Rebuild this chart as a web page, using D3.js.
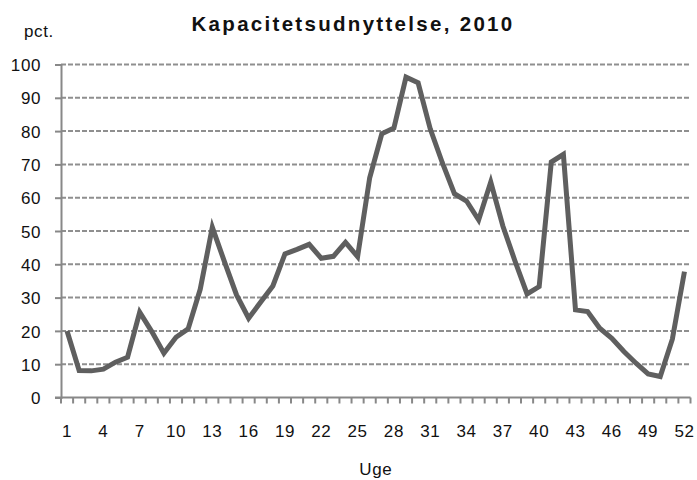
<!DOCTYPE html>
<html>
<head>
<meta charset="utf-8">
<script src="https://cdn.jsdelivr.net/npm/d3@7"></script>
<style>
  body { margin: 0; background: #fff; }
  text { font-family: "Liberation Sans", Arial, sans-serif; fill: #111; }
</style>
</head>
<body>
<script>
// data
var weeks = d3.range(1, 53);
var usage = [20.0, 8.1, 8.0, 8.5, 10.6, 12.1, 25.6, 19.8, 13.3, 18.1,
             20.6, 32.5, 51.1, 40.8, 30.8, 23.8, 28.7, 33.5, 43.1, 44.5,
             46.0, 41.8, 42.4, 46.6, 42.3, 66.0, 79.2, 80.9, 96.2, 94.5,
             80.7, 70.5, 61.2, 59.0, 53.3, 64.7, 51.5, 41.0, 31.1, 33.3,
             70.7, 73.0, 26.3, 25.8, 20.8, 17.8, 13.8, 10.3, 7.1, 6.3,
             17.5, 37.8];
var yTicks = [0, 10, 20, 30, 40, 50, 60, 70, 80, 90, 100];
var xLabels = [1, 4, 7, 10, 13, 16, 19, 22, 25, 28, 31, 34, 37, 40, 43, 46, 49, 52];

var W = 697, H = 480;
var plotL = 61, plotR = 690.5, plotT = 64.5, plotB = 397.5;

var svg = d3.select("body").append("svg")
    .attr("width", W)
    .attr("height", H);

var x = d3.scaleBand().domain(weeks).range([plotL, plotR]).padding(0);
var y = d3.scaleLinear().domain([0, 100]).range([plotB, plotT]);

// gridlines
svg.append("g").selectAll("line")
  .data(yTicks.filter(d => d > 0))
  .enter().append("line")
    .attr("x1", plotL).attr("x2", plotR)
    .attr("y1", d => y(d)).attr("y2", d => y(d))
    .attr("stroke", "#8f8f8f")
    .attr("stroke-width", 2)
    .attr("stroke-dasharray", "5,2");

// y axis
var yAxis = d3.axisLeft(y).tickValues(yTicks).tickSize(6).tickPadding(14);
var gy = svg.append("g").attr("transform", "translate(" + plotL + ",0)").call(yAxis);
gy.select(".domain").attr("stroke", "#888").attr("stroke-width", 2);
gy.selectAll(".tick line").attr("stroke", "#888").attr("stroke-width", 2);
gy.selectAll(".tick text")
  .style("font-size", "17px").style("letter-spacing", "0.6px")
  .style("font-family", "Liberation Sans, Arial, sans-serif")
  .attr("fill", "#111").attr("dy", "0.36em");

// x axis, ticks between categories
var gx = svg.append("g").attr("transform", "translate(0," + plotB + ")");
gx.append("line")
  .attr("x1", plotL - 6).attr("x2", plotR)
  .attr("stroke", "#888").attr("stroke-width", 2);
gx.selectAll("line.tk")
  .data(weeks.concat([53]))
  .enter().append("line")
    .attr("class", "tk")
    .attr("x1", d => d <= 52 ? x(d) : plotR)
    .attr("x2", d => d <= 52 ? x(d) : plotR)
    .attr("y1", 0).attr("y2", 6)
    .attr("stroke", "#888").attr("stroke-width", 2);
gx.selectAll("text")
  .data(xLabels)
  .enter().append("text")
    .attr("x", d => x(d) + x.bandwidth() / 2)
    .attr("y", 39)
    .attr("text-anchor", "middle")
    .style("font-size", "17px").style("letter-spacing", "0.6px")
    .text(d => d);

// line
var line = d3.line()
    .x((d, i) => x(weeks[i]) + x.bandwidth() / 2)
    .y(d => y(d));

svg.append("path")
  .datum(usage)
  .attr("d", line)
  .attr("fill", "none")
  .attr("stroke", "#5f5f5f")
  .attr("stroke-width", 5)
  .attr("stroke-linejoin", "miter");

// titles
svg.append("text")
  .attr("x", 353).attr("y", 31)
  .attr("text-anchor", "middle")
  .style("font-size", "20.5px").style("font-weight", "bold")
  .style("letter-spacing", "2.3px")
  .text("Kapacitetsudnyttelse, 2010");

svg.append("text")
  .attr("x", 24).attr("y", 37)
  .style("font-size", "17px").style("letter-spacing", "0.6px")
  .text("pct.");

svg.append("text")
  .attr("x", (plotL + plotR) / 2).attr("y", 475)
  .attr("text-anchor", "middle")
  .style("font-size", "17px").style("letter-spacing", "0.6px")
  .text("Uge");
</script>
</body>
</html>
